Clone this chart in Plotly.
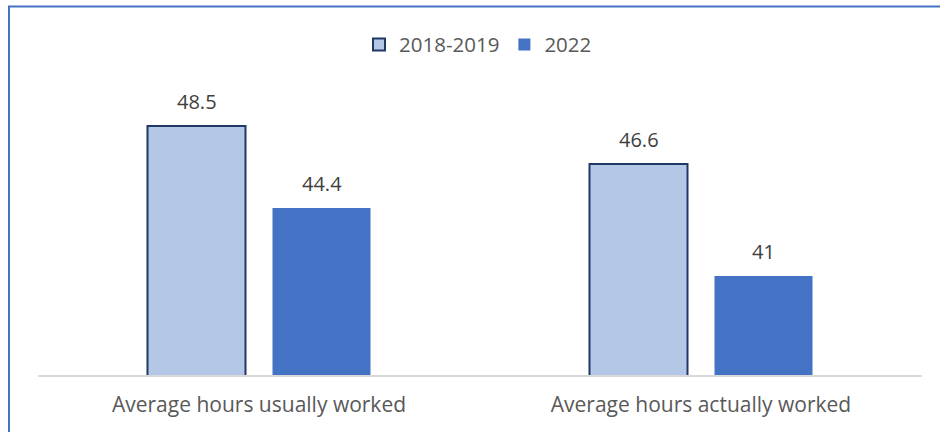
import plotly.graph_objects as go

categories = ["Average hours usually worked", "Average hours actually worked"]
series_names = ["2018-2019", "2022"]
values_2018_2019 = [48.5, 46.6]
values_2022 = [44.4, 41]

FONT = "Open Sans"
TEXT_COLOR = "#595959"

fig = go.Figure()
fig.add_trace(go.Bar(
    name=series_names[0], x=categories, y=values_2018_2019,
    marker=dict(color="#B4C7E7", line=dict(color="#1F3864", width=2)),
))
fig.add_trace(go.Bar(
    name=series_names[1], x=categories, y=values_2022,
    marker=dict(color="#4472C4", line=dict(color="#4472C4", width=0)),
))

annotations = []
for vals, shift in ((values_2018_2019, -62.5), (values_2022, 62.5)):
    for c, v in zip(categories, vals):
        annotations.append(dict(
            x=c, y=v, xref="x", yref="y", text=f"{v:g}", showarrow=False,
            xshift=shift, yshift=25, yanchor="middle",
            font=dict(family=FONT, size=20, color="#404040"),
        ))

fig.update_layout(
    width=940, height=432,
    margin=dict(l=38, r=18, t=95, b=57),
    paper_bgcolor="white", plot_bgcolor="white",
    barmode="group", bargap=0.4344, bargroupgap=0.216,
    font=dict(family=FONT, size=21, color=TEXT_COLOR),
    showlegend=True,
    legend=dict(orientation="h", x=0.5 - 2 / 884, xanchor="center", y=1.18, yanchor="middle",
                font=dict(family=FONT, size=20.5, color=TEXT_COLOR),
                itemwidth=30, traceorder="normal"),
    xaxis=dict(showline=True, linecolor="#D9D9D9", linewidth=1.5, ticks="",
               tickfont=dict(family=FONT, size=21, color=TEXT_COLOR), showgrid=False,
               ticklabelstandoff=10),
    yaxis=dict(range=[36.05, 50.05], visible=False, showgrid=False, zeroline=False),
    annotations=annotations,
    shapes=[dict(type="rect", xref="paper", yref="paper",
                 x0=(9 - 38) / 884, x1=2, y0=-2, y1=1 + (95 - 6.5) / 280,
                 line=dict(color="#4472C4", width=2), fillcolor="rgba(0,0,0,0)", layer="above")],
)

fig.write_html("out.html", config={"displayModeBar": False},
               post_script="document.body.style.margin='0';")
